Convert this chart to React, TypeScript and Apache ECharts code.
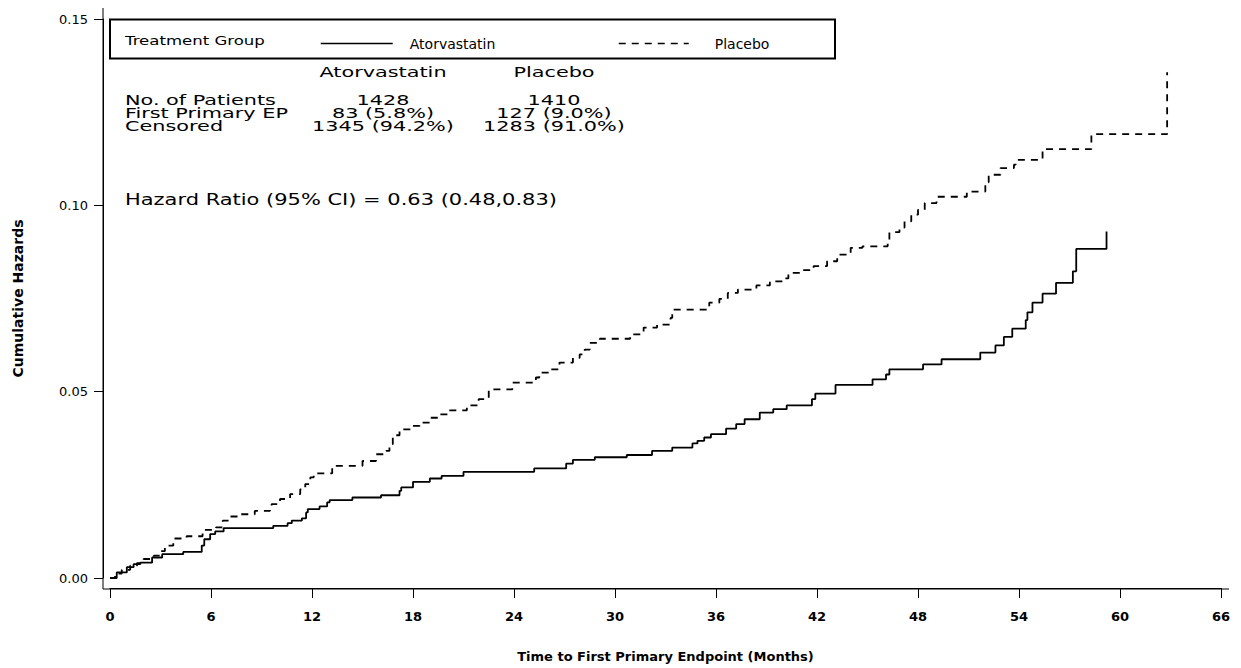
import React, { useEffect, useRef } from "react";
import * as echarts from "echarts";

// ---- Data ----
const seriesNames = ["Atorvastatin", "Placebo"];

// [month, cumulative hazard after the event]
const atorvastatin: [number, number][] = [
  [0, 0], [0.4, 0.0015], [1.0, 0.0029], [1.4, 0.0037], [1.8, 0.0041], [2.5, 0.0055],
  [3.1, 0.0064], [4.35, 0.007], [5.45, 0.0087], [5.6, 0.0104], [5.95, 0.0118],
  [6.25, 0.0125], [6.75, 0.0134], [9.7, 0.014], [10.55, 0.0147], [10.8, 0.0154],
  [11.4, 0.016], [11.65, 0.0176], [11.75, 0.0185], [12.45, 0.0192], [12.9, 0.0203],
  [13.05, 0.0209], [14.4, 0.0216], [16.1, 0.0222], [17.2, 0.0234], [17.3, 0.0243],
  [18.0, 0.0258], [19.0, 0.0267], [19.7, 0.0274], [21.0, 0.0285], [25.2, 0.0294],
  [27.1, 0.0307], [27.5, 0.0317], [28.8, 0.0324], [30.7, 0.033], [32.2, 0.0341],
  [33.4, 0.035], [34.6, 0.0361], [34.9, 0.0368], [35.3, 0.0377], [35.7, 0.0386],
  [36.6, 0.0401], [37.2, 0.0413], [37.7, 0.0426], [38.6, 0.0444], [39.4, 0.0453],
  [40.2, 0.0463], [41.7, 0.048], [41.9, 0.0495], [43.1, 0.0518], [45.3, 0.0533],
  [46.1, 0.0546], [46.3, 0.056], [48.3, 0.0573], [49.4, 0.0587], [51.7, 0.0605],
  [52.6, 0.0624], [53.1, 0.0647], [53.6, 0.0669], [54.4, 0.0692], [54.5, 0.0713],
  [54.8, 0.0739], [55.4, 0.0763], [56.2, 0.0792], [57.2, 0.0823], [57.4, 0.0883],
  [59.2, 0.093],
];

const placebo: [number, number][] = [
  [0, 0], [0.3, 0.0012], [0.7, 0.0022], [1.2, 0.0033], [1.6, 0.004], [2.0, 0.0051],
  [2.6, 0.006], [3.0, 0.0072], [3.26, 0.0087], [3.76, 0.0106], [4.55, 0.0112],
  [5.5, 0.0129], [6.3, 0.0136], [6.7, 0.0154], [7.1, 0.0165], [7.7, 0.0171],
  [8.6, 0.018], [9.5, 0.0189], [9.6, 0.0198], [10.1, 0.0212], [10.7, 0.0225],
  [11.3, 0.0238], [11.6, 0.0252], [11.9, 0.027], [12.1, 0.0281], [13.2, 0.0301],
  [15.0, 0.0314], [15.8, 0.0332], [16.4, 0.0341], [16.6, 0.0359], [16.8, 0.0383],
  [17.2, 0.0399], [17.9, 0.0408], [18.4, 0.0417], [19.0, 0.043], [19.6, 0.0439],
  [20.1, 0.045], [21.2, 0.0463], [21.9, 0.048], [22.5, 0.0506], [23.9, 0.0524],
  [25.3, 0.0538], [25.5, 0.0551], [26.2, 0.056], [26.7, 0.0578], [27.5, 0.0591],
  [27.9, 0.06], [28.2, 0.0613], [28.5, 0.0631], [29.1, 0.0642], [30.9, 0.0654],
  [31.7, 0.0672], [32.5, 0.068], [33.3, 0.0698], [33.4, 0.072], [35.6, 0.0739],
  [36.2, 0.0749], [36.7, 0.0765], [37.3, 0.0774], [38.4, 0.0785], [39.2, 0.0796],
  [40.0, 0.0804], [40.3, 0.0819], [41.0, 0.0826], [41.8, 0.0837], [42.6, 0.085],
  [43.2, 0.0868], [44.0, 0.0886], [44.7, 0.089], [46.2, 0.0904], [46.3, 0.0928],
  [46.9, 0.094], [47.2, 0.0957], [47.6, 0.0975], [48.0, 0.0988], [48.4, 0.1006],
  [49.1, 0.1023], [50.9, 0.1037], [52.0, 0.1062], [52.2, 0.1082], [52.9, 0.11],
  [53.7, 0.1109], [53.8, 0.1122], [55.4, 0.1151], [58.3, 0.1191], [62.8, 0.1357],
];

const xMin = 0;
const xMax = 66;
const xInterval = 6;
const yMin = 0;
const yMax = 0.15;
const yInterval = 0.05;

const xAxisTitle = "Time to First Primary Endpoint (Months)";
const yAxisTitle = "Cumulative Hazards";
const legendTitle = "Treatment Group";
const tableColumns = ["Atorvastatin", "Placebo"];
const tableRowLabels = ["No. of Patients", "First Primary EP", "Censored"];
const atorvastatinStats = ["1428", "83 (5.8%)", "1345 (94.2%)"];
const placeboStats = ["1410", "127 (9.0%)", "1283 (91.0%)"];
const hazardRatioText = "Hazard Ratio (95% CI) = 0.63 (0.48,0.83)";

const FONT = '"DejaVu Sans", "Liberation Sans", sans-serif';

function measure(text: string, size: number, weight = "normal"): number {
  const ctx = document.createElement("canvas").getContext("2d");
  if (!ctx) return text.length * size * 0.6;
  ctx.font = `${weight} ${size}px ${FONT}`;
  return ctx.measureText(text).width;
}

function txt(text: string, x: number, y: number, size: number, scaleX: number, align: string) {
  return {
    type: "text",
    x,
    y,
    scaleX,
    silent: true,
    style: {
      text,
      fontSize: size,
      fontFamily: FONT,
      fill: "#000",
      align,
      verticalAlign: "middle",
      textAlign: align,
      textVerticalAlign: "middle",
    },
  };
}

export default function App() {
  const ref = useRef<HTMLDivElement>(null);

  useEffect(() => {
    if (!ref.current) return;
    const chart = echarts.init(ref.current, null, { renderer: "svg" });

    const tableSize = 14;
    const tableScale = 151 / measure(tableRowLabels[0], tableSize);
    const hrScale = 432 / measure(hazardRatioText, 15);
    const legendSize = 13;
    const legendScale = 140 / measure(legendTitle, legendSize);

    const colCenters = [383, 554];
    const rowYs = [100, 113, 126];

    const graphic: any[] = [
      // extended axis lines (SAS style)
      { type: "line", silent: true, shape: { x1: 103, y1: 8, x2: 103, y2: 589 }, style: { stroke: "#000", lineWidth: 1 } },
      { type: "line", silent: true, shape: { x1: 103, y1: 589, x2: 1229, y2: 589 }, style: { stroke: "#000", lineWidth: 1 } },
      // legend box
      { type: "rect", silent: true, shape: { x: 110, y: 19.5, width: 725, height: 39 }, style: { fill: "none", stroke: "#000", lineWidth: 2 } },
      txt(legendTitle, 125, 41, legendSize, legendScale, "left"),
      // table header
      txt(tableColumns[0], colCenters[0], 72, tableSize, tableScale, "center"),
      txt(tableColumns[1], colCenters[1], 72, tableSize, tableScale, "center"),
      ...tableRowLabels.map((t, i) => txt(t, 125, rowYs[i], tableSize, tableScale, "left")),
      ...atorvastatinStats.map((t, i) => txt(t, colCenters[0], rowYs[i], tableSize, tableScale, "center")),
      ...placeboStats.map((t, i) => txt(t, colCenters[1], rowYs[i], tableSize, tableScale, "center")),
      txt(hazardRatioText, 125, 200, 15, hrScale, "left"),
    ];

    const legendText = (pad: number) => ({
      fontSize: 14,
      fontFamily: FONT,
      color: "#000",
      rich: { a: { fontSize: 14, fontFamily: FONT, color: "#000", padding: [0, 0, 0, pad] } },
    });

    chart.setOption({
      animation: false,
      backgroundColor: "#fff",
      textStyle: { fontFamily: FONT },
      grid: { left: 110, right: 20, top: 19, bottom: 89, containLabel: false },
      legend: [
        {
          data: [seriesNames[0]],
          left: 315,
          top: 31.5,
          itemWidth: 72,
          itemHeight: 14,
          selectedMode: false,
          itemStyle: { opacity: 0 },
          lineStyle: { width: 1.5 },
          formatter: (n: string) => `{a|${n}}`,
          textStyle: legendText(12),
        },
        {
          data: [seriesNames[1]],
          left: 613,
          top: 31.5,
          itemWidth: 70,
          itemHeight: 14,
          selectedMode: false,
          itemStyle: { opacity: 0 },
          lineStyle: { width: 1.5 },
          formatter: (n: string) => `{a|${n}}`,
          textStyle: legendText(21),
        },
      ],
      xAxis: {
        type: "value",
        min: xMin,
        max: xMax,
        interval: xInterval,
        offset: 10,
        name: xAxisTitle,
        nameLocation: "middle",
        nameGap: 62,
        nameTextStyle: { fontSize: 13, fontWeight: "bold", color: "#000", fontFamily: FONT },
        axisLine: { show: true, onZero: false, lineStyle: { color: "#000", width: 1 } },
        axisTick: { show: true, length: 10, lineStyle: { color: "#000", width: 1 } },
        axisLabel: { color: "#000", fontSize: 13, fontWeight: "bold", margin: 22, fontFamily: FONT },
        splitLine: { show: false },
      },
      yAxis: {
        type: "value",
        min: yMin,
        max: yMax,
        interval: yInterval,
        offset: 7,
        name: yAxisTitle,
        nameLocation: "middle",
        nameRotate: 90,
        nameGap: 78,
        nameTextStyle: { fontSize: 14, fontWeight: "bold", color: "#000", fontFamily: FONT },
        axisLine: { show: true, onZero: false, lineStyle: { color: "#000", width: 1 } },
        axisTick: { show: true, length: 9, lineStyle: { color: "#000", width: 1 } },
        axisLabel: {
          color: "#000",
          fontSize: 13,
          margin: 15,
          fontFamily: FONT,
          formatter: (v: number) => v.toFixed(2),
        },
        splitLine: { show: false },
      },
      series: [
        {
          name: seriesNames[0],
          type: "line",
          step: "end",
          data: atorvastatin,
          symbol: "none",
          showSymbol: false,
          lineStyle: { color: "#000", width: 1.8, type: "solid" },
          itemStyle: { color: "#000" },
        },
        {
          name: seriesNames[1],
          type: "line",
          step: "end",
          data: placebo,
          symbol: "none",
          showSymbol: false,
          lineStyle: { color: "#000", width: 1.8, type: [7, 6] },
          itemStyle: { color: "#000" },
        },
      ],
      graphic,
    });

    return () => chart.dispose();
  }, []);

  return (
    <div
      ref={ref}
      style={{ position: "absolute", left: 0, top: 0, width: 1241, height: 668, background: "#fff" }}
    />
  );
}
